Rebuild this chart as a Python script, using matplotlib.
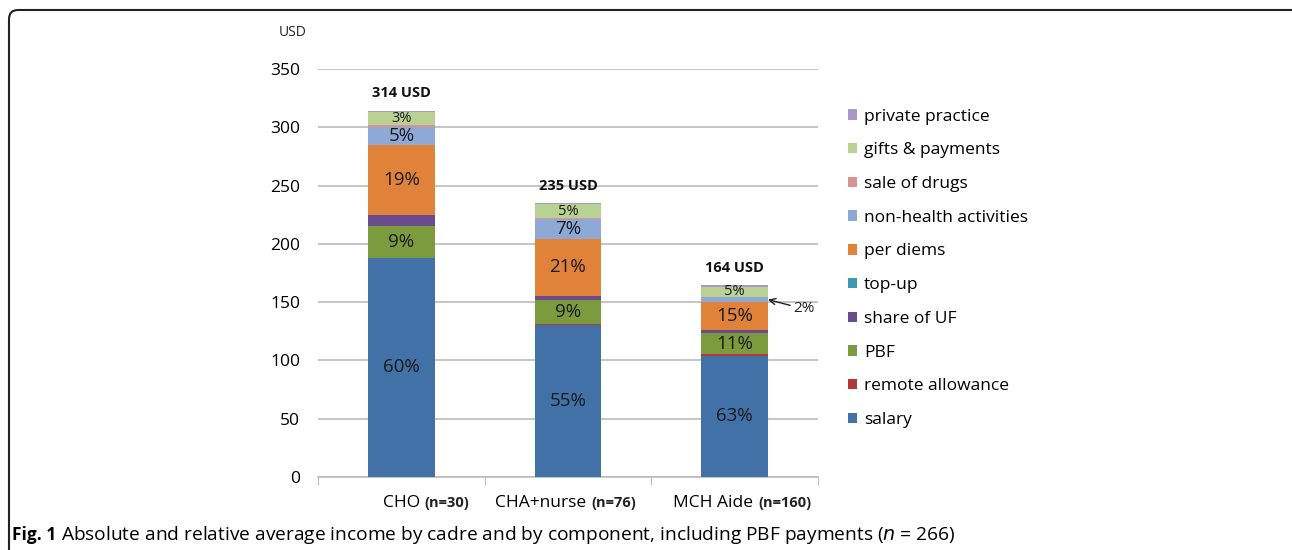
import matplotlib
matplotlib.use('Agg')
import matplotlib.pyplot as plt
from matplotlib.patches import FancyBboxPatch, Patch
import numpy as np

categories = ['CHO', 'CHA+nurse', 'MCH Aide']
sample_sizes = ['(n=30)', '(n=76)', '(n=160)']
totals = [314, 235, 164]

# components from bottom to top (USD)
components = ['salary', 'remote allowance', 'PBF', 'share of UF', 'top-up',
              'per diems', 'non-health activities', 'sale of drugs',
              'gifts & payments', 'private practice']
salary = [188, 130, 104]
remote = [0, 1, 1.5]
pbf = [27, 21, 18]
share_uf = [10, 3, 2.3]
top_up = [0, 0, 0]
per_diems = [60, 49.5, 24.6]
non_health = [15, 17, 3.6]
drugs = [2, 0.5, 0.5]
gifts = [11, 12, 8.5]
private = [1, 1, 1.5]

# percentage labels shown in the bars (None = no label)
pct_salary = ['60%', '55%', '63%']
pct_pbf = ['9%', '9%', '11%']
pct_per_diems = ['19%', '21%', '15%']
pct_non_health = ['5%', '7%', None]
pct_gifts = ['3%', '5%', '5%']

colors = ['#4271A7', '#B03A38', '#7C9B3E', '#6A4C8C', '#3A9AB3',
          '#E0823A', '#8EA9D6', '#D99392', '#B9D294', '#A899C4']

series = [salary, remote, pbf, share_uf, top_up, per_diems, non_health,
          drugs, gifts, private]
labels = [pct_salary, None, pct_pbf, None, None, pct_per_diems,
          pct_non_health, None, pct_gifts, None]

plt.rcParams['font.family'] = ['Open Sans', 'DejaVu Sans']

fig = plt.figure(figsize=(12.92, 5.5), dpi=100)
ax = fig.add_axes([318 / 1292, 1 - 477 / 550, 500 / 1292, 408 / 550])

x = np.arange(len(categories))
bottom = np.zeros(len(categories))
for vals, col, lab in zip(series, colors, labels):
    vals = np.array(vals, dtype=float)
    ax.bar(x, vals, 0.4, bottom=bottom, color=col, zorder=3)
    if lab is not None:
        for i, t in enumerate(lab):
            if t is None:
                continue
            fs = 10.5 if vals[i] < 13 else 13.5
            ax.text(x[i], bottom[i] + vals[i] / 2, t, ha='center', va='center',
                    fontsize=fs, color='#1a1a1a', zorder=4)
    bottom += vals

for i, t in enumerate(totals):
    ax.text(x[i], t + 15, f'{t} USD', ha='center', va='center',
            fontsize=10.5, fontweight='bold', color='#111111', zorder=4)

# arrow label for the small non-health share of MCH Aide
mch_nh = sum(s[2] for s in series[:6]) + non_health[2] / 2
ax.annotate('2%', xy=(2.2, mch_nh), xytext=(2.35, mch_nh - 8),
            fontsize=11, ha='left', va='center', color='#222222',
            arrowprops=dict(arrowstyle='->', color='#222222', lw=1,
                            shrinkA=0, shrinkB=0))

ax.set_xlim(-0.5, 2.5)
ax.set_ylim(0, 350)
ax.set_yticks(range(0, 351, 50))
ax.yaxis.grid(True, color='#BBBBBB', lw=1.2, zorder=0)
ax.tick_params(axis='y', length=0, labelsize=12.5, pad=13)
for s in ['top', 'right', 'left']:
    ax.spines[s].set_visible(False)
ax.spines['bottom'].set_color('#BBBBBB')
ax.spines['bottom'].set_linewidth(1.2)
ax.set_xticks([-0.5, 0.5, 1.5, 2.5])
ax.set_xticklabels([])
ax.tick_params(axis='x', length=6, color='#BBBBBB', direction='out')
for i, (c, n) in enumerate(zip(categories, sample_sizes)):
    ax.text(x[i] + 0.11, -22, c, ha='right', va='center', fontsize=12.5)
    ax.text(x[i] + 0.14, -22, n, ha='left', va='center', fontsize=10.5,
            fontweight='bold', color='#222222')

fig.text(293 / 1292, 1 - 32 / 550, 'USD', ha='center', va='center',
         fontsize=10, color='#222222')

handles = [Patch(facecolor=c, edgecolor='none') for c in colors]
fig.legend(handles[::-1], components[::-1], loc='upper left',
           bbox_to_anchor=(832 / 1292, 1 - 93 / 550), frameon=False,
           fontsize=12.5, handlelength=0.55, handleheight=0.55,
           handletextpad=0.4, labelspacing=1.02)

# caption: bold "Fig. 1" followed by the description
cap_y = 1 - 535 / 550
t1 = fig.text(12 / 1292, cap_y, 'Fig. 1', ha='left', va='center',
              fontsize=12.5, fontweight='bold')
r = fig.canvas.get_renderer()
bb = t1.get_window_extent(r)
t2 = fig.text((bb.x1 + 5) / 1292, cap_y,
              'Absolute and relative average income by cadre and by component, '
              'including PBF payments ($n$ = 266)',
              ha='left', va='center', fontsize=12)
w = t2.get_window_extent(r).width
t2.set_fontsize(12 * (957 - bb.x1 - 5) / w)

frame = FancyBboxPatch((0.09, -0.6), 12.93, 6.0,
                       boxstyle='round,pad=0,rounding_size=0.09',
                       transform=fig.dpi_scale_trans, fill=False,
                       edgecolor='#222222', lw=1.5)
fig.patches.append(frame)

fig.savefig('out.png', dpi=100)
